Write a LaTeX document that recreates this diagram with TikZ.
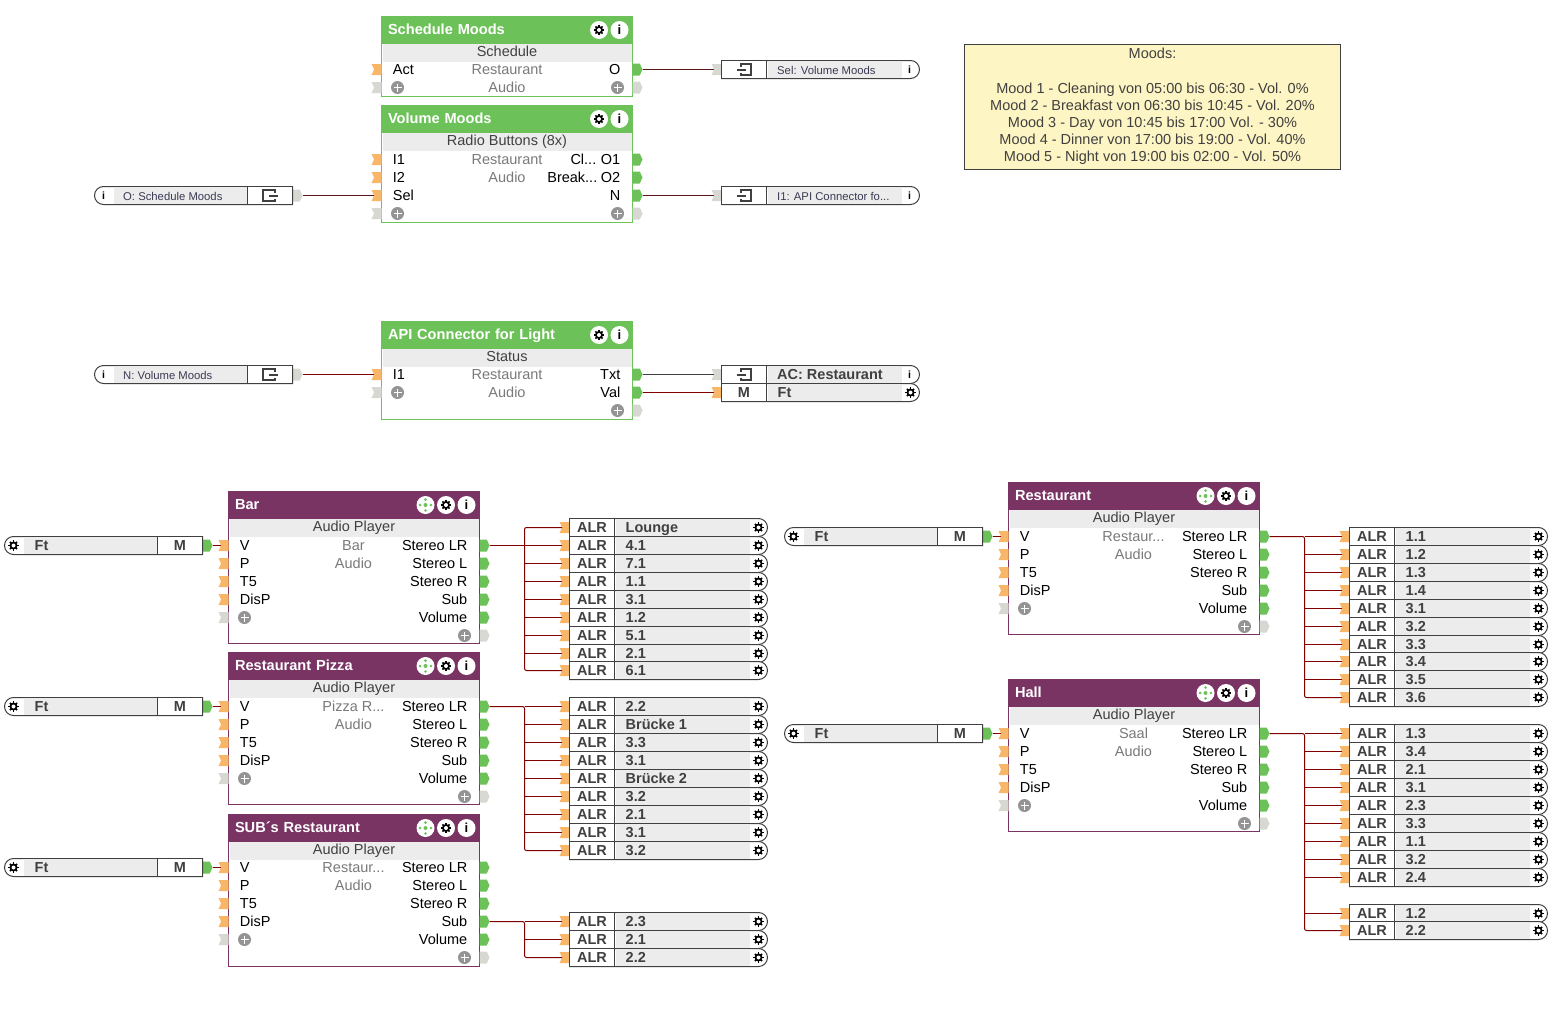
\documentclass[tikz,border=0pt]{standalone}
\usepackage{fontspec}
\setmainfont{Liberation Sans}
\usetikzlibrary{shapes.misc,shapes.symbols}
\definecolor{moodgreen}{RGB}{108,194,88}
\definecolor{playerpurple}{RGB}{122,52,100}
\definecolor{portorange}{RGB}{248,183,104}
\definecolor{portgrey}{RGB}{216,216,210}
\definecolor{bandgrey}{RGB}{236,236,236}
\definecolor{linedark}{RGB}{64,64,64}
\definecolor{wirered}{RGB}{128,0,0}
\definecolor{wiredark}{RGB}{90,24,24}
\definecolor{notefill}{RGB}{254,245,196}
\tikzset{
    rowtext/.style ={font=\fontsize{14.5}{15}\selectfont, inner sep=0pt, text=black},
    roomtext/.style ={rowtext, text=black!52},
    boldtext/.style ={font=\bfseries\fontsize{14.5}{15}\selectfont, inner sep=0pt, text=linedark},
    smalltext/.style ={font=\fontsize{11.3}{12}\selectfont, inner sep=0pt, text=linedark!90!blue},
    blockbody/.style ={rectangle, minimum width=251pt, inner sep=0pt, outer sep=0pt, fill=white, draw, line width=1pt},
    blockhead/.style ={rectangle, minimum height=27pt, text width=238pt, align=left, inner xsep=6.5pt, inner ysep=0pt,
        outer sep=0pt, text=white, font=\bfseries\fontsize{14.6}{15}\selectfont, text height=11pt, text depth=2pt},
    blockband/.style ={rectangle, minimum width=249pt, minimum height=18pt, inner sep=0pt, fill=bandgrey,
        text=linedark, text height=10.5pt, text depth=2pt, font=\fontsize{14.5}{15}\selectfont},
    inport/.style ={signal, signal to=nowhere, signal from=west, signal pointer angle=130, minimum width=10pt,
        minimum height=11pt, inner sep=0pt, outer sep=0pt, fill=portorange, anchor=east},
    inspare/.style ={inport, fill=portgrey},
    outport/.style ={signal, signal to=east, signal from=nowhere, signal pointer angle=130, minimum width=10pt,
        minimum height=12pt, inner sep=0pt, outer sep=0pt, fill=moodgreen, anchor=west},
    outspare/.style ={outport, fill=portgrey},
    extbox/.style ={rounded rectangle, minimum width=198pt, minimum height=18pt, inner sep=0pt, outer sep=0pt,
        fill=white, draw=linedark, line width=1pt},
    extband/.style ={rectangle, minimum width=134pt, minimum height=17pt, inner sep=0pt, fill=bandgrey},
    extcell/.style ={rectangle, minimum width=45pt, minimum height=18pt, inner sep=0pt, outer sep=0pt, fill=white,
        draw=linedark, line width=1pt, text=linedark, font=\bfseries\fontsize{14.5}{15}\selectfont,
        text height=10.5pt, text depth=0pt},
    notebox/.style ={rectangle, minimum width=376pt, inner xsep=3pt, inner ysep=3.5pt, fill=notefill, draw=linedark,
        line width=1pt, align=center, text=linedark, font=\fontsize{14.5}{17}\selectfont},
    wire/.style ={draw=wirered, line width=1pt, rounded corners=2pt},
    darkwire/.style ={draw=wiredark, line width=1pt},
    greywire/.style ={draw=linedark, line width=1pt},
    gearicon/.pic ={
        \foreach \a in {0,45,90,135} \draw[black, line width=1.7pt] (\a:-5.1) -- (\a:5.1);
        \fill[black] circle[radius=4];
        \fill[white] circle[radius=2];
    },
    infoicon/.pic ={
        \node[inner sep=0pt, text=black, font=\bfseries\fontsize{13}{13}\selectfont] {i};
    },
    smallinfo/.pic ={
        \node[inner sep=0pt, text=black, font=\bfseries\fontsize{10.5}{11}\selectfont] {i};
    },
    plusicon/.pic ={
        \fill[black!42] circle[radius=6.5];
        \draw[white, line width=1.6pt] (-4,0) -- (4,0);
        \draw[white, line width=1.6pt] (0,-4) -- (0,4);
    },
    crossicon/.pic ={
        \fill[white] circle[radius=9];
        \fill[moodgreen] circle[radius=2];
        \foreach \a in {0,90,180,270} \fill[moodgreen] (\a:5.4) circle[radius=1.4];
    },
    exporticon/.pic ={
        \draw[linedark, line width=2pt] (-4,-3) -- (-4,-5.5) -- (6,-5.5) -- (6,5.5) -- (-4,5.5) -- (-4,3);
        \draw[linedark, line width=2pt] (-8,0) -- (1,0);
    },
    importicon/.pic ={
        \draw[linedark, line width=2pt] (5,-3) -- (5,-5.5) -- (-7,-5.5) -- (-7,5.5) -- (5,5.5) -- (5,3);
        \draw[linedark, line width=2pt] (-1,0) -- (8,0);
    }
}
% block with head and band
\newcommand{\blockframe}[7]{
    \node[blockbody, draw=#5, minimum height=#4pt, anchor=north west] (#1) at (#2,#3) {};
    \node[blockband] (#1-band) at (#2+125.5,#3+36) {#7};
    \node[blockhead, fill=#5, anchor=north west] (#1-head) at (#2,#3) {#6};
    \fill[white] (#2+217.5,#3+13.5) circle[radius=9];
    \pic at (#2+217.5,#3+13.5) {gearicon};
    \fill[white] (#2+238,#3+13.5) circle[radius=9];
    \pic at (#2+238,#3+13.5) {infoicon};
}
\newcommand{\leftport}[4]{
    \node[inport] (#1) at (#2,#3) {};
    \node[rowtext, anchor=base west] (#1-text) at (#2+11.2,#3+4.5) {#4};
}
\newcommand{\rightport}[4]{
    \node[outport] (#1) at (#2,#3) {};
    \node[rowtext, anchor=base east] (#1-text) at (#2-12,#3+4.5) {#4};
}
\newcommand{\leftplus}[3]{
    \node[inspare] (#1) at (#2,#3) {};
    \pic at (#2+16,#3) {plusicon};
}
\newcommand{\rightplus}[3]{
    \node[outspare] (#1) at (#2,#3) {};
    \pic at (#2-15,#3) {plusicon};
}
\newcommand{\roomlabel}[4]{
    \node[roomtext, anchor=base] (#1) at (#2,#3+4.5) {#4};
}
% audio player block
\newcommand{\audioplayer}[6][0]{
    \blockframe{#2}{#3}{#4+#1}{152}{playerpurple}{#5}{Audio Player}
    \pic at (#3+197,#4+#1+13.5) {crossicon};
    \leftport{#2-v}{#3}{#4+54}{V}
    \leftport{#2-p}{#3}{#4+72}{P}
    \leftport{#2-t}{#3}{#4+90}{T5}
    \leftport{#2-d}{#3}{#4+108}{DisP}
    \leftplus{#2-add}{#3}{#4+126}
    \rightport{#2-lr}{#3+251}{#4+54}{Stereo LR}
    \rightport{#2-l}{#3+251}{#4+72}{Stereo L}
    \rightport{#2-r}{#3+251}{#4+90}{Stereo R}
    \rightport{#2-sub}{#3+251}{#4+108}{Sub}
    \rightport{#2-vol}{#3+251}{#4+126}{Volume}
    \rightplus{#2-more}{#3+251}{#4+144}
    \roomlabel{#2-room}{#3+125}{#4+54}{#6}
    \roomlabel{#2-zone}{#3+125}{#4+72}{Audio}
}
% output box, tab on the left, gear on the right
\newcommand{\alrbox}[5][ALR]{
    \node[inport] (#2) at (#3,#4) {};
    \node[extbox, rounded rectangle west arc=none, anchor=west] (#2-box) at (#3,#4) {};
    \node[extband, anchor=west] (#2-band) at (#3+46,#4) {};
    \node[extcell, anchor=west] (#2-cell) at (#3,#4) {#1};
    \node[boldtext, anchor=base west] (#2-text) at (#3+56,#4+4.5) {#5};
    \pic at (#3+189,#4) {gearicon};
}
% source box, gear on the left, tab on the right
\newcommand{\srcbox}[3]{
    \node[outport] (#1) at (#2+198,#3) {};
    \node[extbox, rounded rectangle east arc=none, anchor=west] (#1-box) at (#2,#3) {};
    \node[extband, anchor=west] (#1-band) at (#2+19,#3) {};
    \node[extcell, anchor=east] (#1-cell) at (#2+198,#3) {M};
    \node[boldtext, anchor=base west] (#1-text) at (#2+30,#3+4.5) {Ft};
    \pic at (#2+9,#3) {gearicon};
}
% reference boxes
\newcommand{\outref}[5][smalltext]{
    \node[inspare] (#2) at (#3,#4) {};
    \node[extbox, rounded rectangle west arc=none, anchor=west] (#2-box) at (#3,#4) {};
    \node[extband, anchor=west] (#2-band) at (#3+46,#4) {};
    \node[extcell, anchor=west] (#2-cell) at (#3,#4) {};
    \pic at (#3+23,#4) {exporticon};
    \node[#1, anchor=base west] (#2-text) at (#3+55.5,#4+4.5) {#5};
    \pic at (#3+188,#4) {smallinfo};
}
\newcommand{\inref}[4]{
    \node[outspare] (#1) at (#2+198,#3) {};
    \node[extbox, rounded rectangle east arc=none, anchor=west] (#1-box) at (#2,#3) {};
    \node[extband, anchor=west] (#1-band) at (#2+19,#3) {};
    \node[extcell, anchor=east] (#1-cell) at (#2+198,#3) {};
    \pic at (#2+175,#3) {importicon};
    \node[smalltext, anchor=base west] (#1-text) at (#2+28.5,#3+4.5) {#4};
    \pic at (#2+9,#3) {smallinfo};
}

\begin{document}
\begin{tikzpicture}[x=1pt,y=-1pt]
    \useasboundingbox (-0.5,-0.5) rectangle (1565.5,1011.5);

    % Schedule Moods
    \blockframe{sched}{381}{16}{80}{moodgreen}{Schedule Moods}{Schedule}
    \leftport{sched-act}{381}{69}{Act}
    \leftplus{sched-add}{381}{87}
    \rightport{sched-o}{632}{69}{O}
    \rightplus{sched-more}{632}{87}
    \roomlabel{sched-room}{506.5}{69}{Restaurant}
    \roomlabel{sched-zone}{506.5}{87}{Audio}

    % Volume Moods
    \blockframe{vol}{381}{105}{117}{moodgreen}{Volume Moods}{Radio Buttons (8x)}
    \leftport{vol-ia}{381}{159}{I1}
    \leftport{vol-ib}{381}{177}{I2}
    \leftport{vol-sel}{381}{195}{Sel}
    \leftplus{vol-add}{381}{213}
    \rightport{vol-oa}{632}{159}{O1}
    \rightport{vol-ob}{632}{177}{O2}
    \rightport{vol-n}{632}{195}{N}
    \rightplus{vol-more}{632}{213}
    \roomlabel{vol-room}{506.5}{159}{Restaurant}
    \roomlabel{vol-zone}{506.5}{177}{Audio}
    \node[rowtext, anchor=base east] (vol-cl) at (596,163.5) {Cl...};
    \node[rowtext, anchor=base east] (vol-break) at (597,181.5) {Break...};

    % API Connector
    \blockframe{api}{381}{321}{98}{moodgreen}{API Connector for Light}{Status}
    \leftport{api-i}{381}{374}{I1}
    \leftplus{api-add}{381}{392}
    \rightport{api-txt}{632}{374}{Txt}
    \rightport{api-val}{632}{392}{Val}
    \rightplus{api-more}{632}{410}
    \roomlabel{api-room}{506.5}{374}{Restaurant}
    \roomlabel{api-zone}{506.5}{392}{Audio}

    % references
    \outref{selref}{721}{69}{Sel: Volume Moods}
    \outref{iref}{721}{195}{I1: API Connector fo...}
    \inref{oref}{94}{195}{O: Schedule Moods}
    \inref{nref}{94}{374}{N: Volume Moods}
    \outref[boldtext]{acref}{721}{374}{AC: Restaurant}
    \alrbox[M]{ftref}{721}{392}{Ft}

    \draw[darkwire] (sched-o.east) -- (selref.west);
    \draw[darkwire] (oref.east) -- (vol-sel.west);
    \draw[darkwire] (vol-n.east) -- (iref.west);
    \draw[wire] (nref.east) -- (api-i.west);
    \draw[greywire] (api-txt.east) -- (acref.west);
    \draw[wire] (api-val.east) -- (ftref.west);

    % note
    \node[notebox, anchor=north west] (moods) at (963.5,43) {Moods:\\ \\[1pt]
        Mood 1 - Cleaning von 05:00 bis 06:30 - Vol. 0\%\\
        Mood 2 - Breakfast von 06:30 bis 10:45 - Vol. 20\%\\
        Mood 3 - Day von 10:45 bis 17:00 Vol. - 30\%\\
        Mood 4 - Dinner von 17:00 bis 19:00 - Vol. 40\%\\
        Mood 5 - Night von 19:00 bis 02:00 - Vol. 50\%\rule[-5pt]{0pt}{5pt}};

    % players on the left
    \audioplayer{bar}{228}{491}{Bar}{Bar}
    \audioplayer{pizza}{228}{652}{Restaurant Pizza}{Pizza R...}
    \audioplayer[1]{subs}{228}{813}{SUB´s Restaurant}{Restaur...}
    \srcbox{barft}{4}{545}
    \srcbox{pizzaft}{4}{706}
    \srcbox{subsft}{4}{867}
    \draw[wire] (barft.east) -- (bar-v.west);
    \draw[wire] (pizzaft.east) -- (pizza-v.west);
    \draw[wire] (subsft.east) -- (subs-v.west);

    \foreach \k/\yy/\t in {1/527/Lounge,2/545/4.1,3/563/7.1,4/581/1.1,5/599/3.1,6/617/1.2,7/635/5.1,8/653/2.1,9/670/6.1}
        \alrbox{baralr\k}{569}{\yy}{\t}
    \coordinate (bartrunk) at (524,545);
    \draw[wire] (bar-lr.east) -- (bartrunk);
    \draw[wire] (baralr1.west) -| (bartrunk) |- (baralr9.west);
    \foreach \k in {2,...,8}
        \draw[wire] (bartrunk |- baralr\k.west) -- (baralr\k.west);

    \foreach \k/\yy/\t in {1/706/2.2,2/724/Brücke 1,3/742/3.3,4/760/3.1,5/778/Brücke 2,6/796/3.2,7/814/2.1,8/832/3.1,9/850/3.2}
        \alrbox{pizzaalr\k}{569}{\yy}{\t}
    \coordinate (pizzatrunk) at (524,706);
    \draw[wire] (pizza-lr.east) -- (pizzatrunk) |- (pizzaalr9.west);
    \foreach \k in {1,...,8}
        \draw[wire] (pizzatrunk |- pizzaalr\k.west) -- (pizzaalr\k.west);

    \foreach \k/\yy/\t in {1/921/2.3,2/939/2.1,3/957/2.2}
        \alrbox{subsalr\k}{569}{\yy}{\t}
    \coordinate (substrunk) at (524,921);
    \draw[wire] (subs-sub.east) -- (substrunk) |- (subsalr3.west);
    \foreach \k in {1,2}
        \draw[wire] (substrunk |- subsalr\k.west) -- (subsalr\k.west);

    % players on the right
    \audioplayer{rest}{1008}{482}{Restaurant}{Restaur...}
    \audioplayer{hall}{1008}{679}{Hall}{Saal}
    \srcbox{restft}{784}{536}
    \srcbox{hallft}{784}{733}
    \draw[wire] (restft.east) -- (rest-v.west);
    \draw[wire] (hallft.east) -- (hall-v.west);

    \foreach \k/\yy/\t in {1/536/1.1,2/554/1.2,3/572/1.3,4/590/1.4,5/608/3.1,6/626/3.2,7/644/3.3,8/661/3.4,9/679/3.5,10/697/3.6}
        \alrbox{restalr\k}{1349}{\yy}{\t}
    \coordinate (resttrunk) at (1304,536);
    \draw[wire] (rest-lr.east) -- (resttrunk) |- (restalr10.west);
    \foreach \k in {1,...,9}
        \draw[wire] (resttrunk |- restalr\k.west) -- (restalr\k.west);

    \foreach \k/\yy/\t in {1/733/1.3,2/751/3.4,3/769/2.1,4/787/3.1,5/805/2.3,6/823/3.3,7/841/1.1,8/859/3.2,9/877/2.4,10/913/1.2,11/930/2.2}
        \alrbox{hallalr\k}{1349}{\yy}{\t}
    \coordinate (halltrunk) at (1304,733);
    \draw[wire] (hall-lr.east) -- (halltrunk) |- (hallalr11.west);
    \foreach \k in {1,...,10}
        \draw[wire] (halltrunk |- hallalr\k.west) -- (hallalr\k.west);
\end{tikzpicture}
\end{document}
